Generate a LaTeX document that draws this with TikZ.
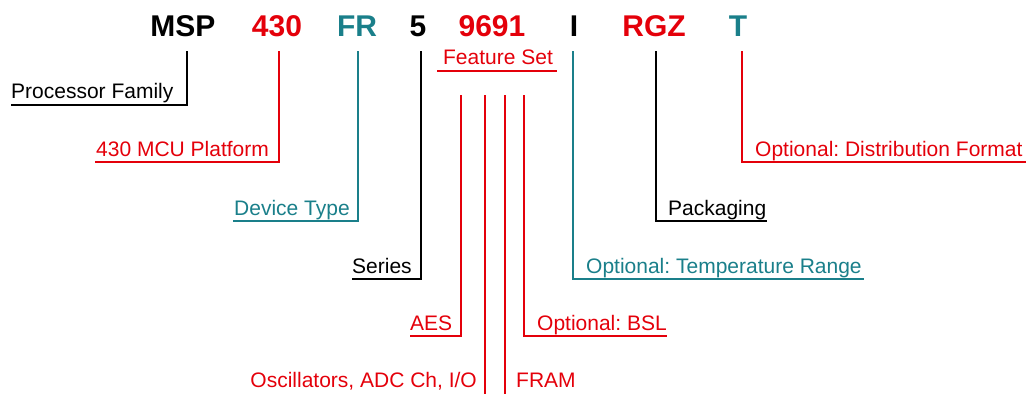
\documentclass[tikz,border=0pt]{standalone}
\usepackage{fontspec}
\setmainfont{Liberation Sans}
\frenchspacing
\definecolor{tired}{RGB}{228,0,10}
\definecolor{titeal}{RGB}{26,127,138}
\begin{document}
\begin{tikzpicture}[x=1pt,y=-1pt,
  code/.style={font=\fontsize{30}{34}\selectfont\bfseries, inner sep=0pt, anchor=base},
  lbl/.style={font=\fontsize{21}{25}\selectfont\frenchspacing, inner sep=0pt},
  wire/.style={line width=1.6pt},
  blk/.style={black}, rd/.style={tired}, tl/.style={titeal}]
\useasboundingbox (0,0) rectangle (1028,394);
% codes
\node[code,blk] (msp) at (183,36) {MSP};
\node[code,rd]  (c430) at (277,36) {430};
\node[code,tl]  (fr) at (357,36) {FR};
\node[code,blk] (s5) at (418,36) {5};
\node[code,rd]  (fs) at (492,36) {9691};
\node[code,blk] (ti) at (574,36) {I};
\node[code,rd]  (rgz) at (654,36) {RGZ};
\node[code,tl]  (tt) at (738,36) {T};
% feature set heading
\node[lbl,rd,anchor=base] (fset) at (498,64) {Feature Set};
\coordinate (fsl) at (437,71);
\coordinate (fsr) at (557,71);
\draw[wire,rd] (fsl) -- (fsr);
% labels
\node[lbl,blk,anchor=base west] (pf) at (11,98) {Processor Family};
\node[lbl,rd,anchor=base west] (mcu) at (96,156) {430 MCU Platform};
\node[lbl,tl,anchor=base west] (dt) at (234,215) {Device Type};
\node[lbl,blk,anchor=base west] (ser) at (352,273) {Series};
\node[lbl,rd,anchor=base west] (aes) at (410,330) {AES};
\node[lbl,rd,anchor=base east] (osc) at (477,387) {Oscillators, ADC Ch, I/O};
\node[lbl,rd,anchor=base west] (fram) at (516,387) {FRAM};
\node[lbl,rd,anchor=base west] (bsl) at (537,330) {Optional: BSL};
\node[lbl,tl,anchor=base west] (temp) at (586,273) {Optional: Temperature Range};
\node[lbl,blk,anchor=base west] (pkg) at (668,215) {Packaging};
\node[lbl,rd,anchor=base west] (dist) at (755,156) {Optional: Distribution Format};
% top ends of connectors
\coordinate (tmsp) at (187,51);
\coordinate (t430) at (279,51);
\coordinate (tfr) at (358,51);
\coordinate (t5) at (421,51);
\coordinate (ti1) at (573,51);
\coordinate (trgz) at (656,51);
\coordinate (ttt) at (742,51);
\coordinate (fa) at (461,95);
\coordinate (fb) at (485,95);
\coordinate (fc) at (505,95);
\coordinate (fd) at (524,95);
% bottom ends
\coordinate (epf) at (11,105);
\coordinate (emcu) at (95,162);
\coordinate (edt) at (233,221);
\coordinate (eser) at (352,279);
\coordinate (eaes) at (410,336);
\coordinate (eosc) at (485,394);
\coordinate (efram) at (505,394);
\coordinate (ebsl) at (667,336);
\coordinate (etemp) at (864,279);
\coordinate (epkg) at (767,221);
\coordinate (edist) at (1026,162);
% connectors
\draw[wire,blk] (tmsp) |- (epf);
\draw[wire,rd] (t430) |- (emcu);
\draw[wire,tl] (tfr) |- (edt);
\draw[wire,blk] (t5) |- (eser);
\draw[wire,rd] (fa) |- (eaes);
\draw[wire,rd] (fb) -- (eosc);
\draw[wire,rd] (fc) -- (efram);
\draw[wire,rd] (fd) |- (ebsl);
\draw[wire,tl] (ti1) |- (etemp);
\draw[wire,blk] (trgz) |- (epkg);
\draw[wire,rd] (ttt) |- (edist);
\end{tikzpicture}
\end{document}
